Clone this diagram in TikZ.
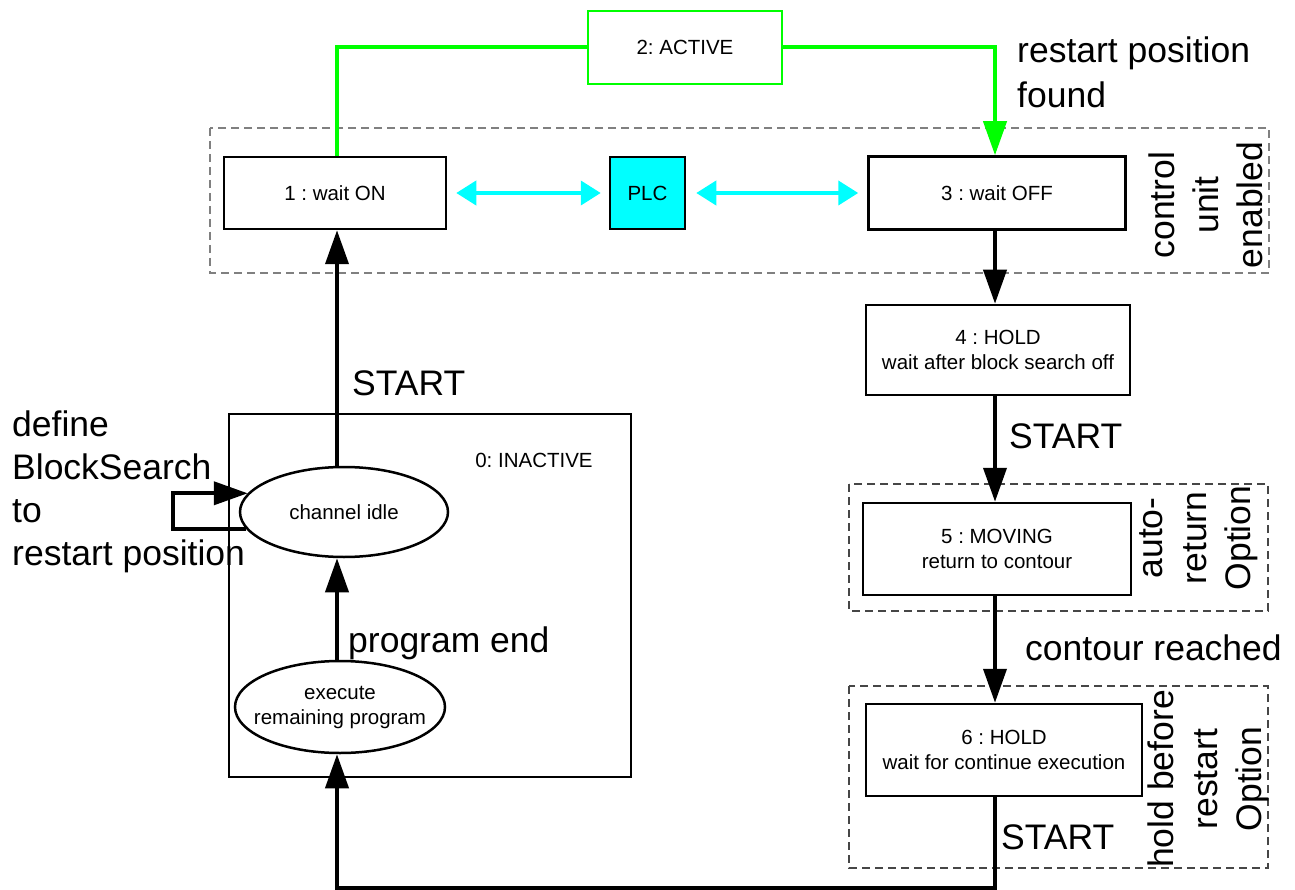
\documentclass[tikz,border=0pt]{standalone}
\usepackage{fontspec}
\setmainfont{Liberation Sans}
\usetikzlibrary{arrows.meta,shapes.geometric}
\definecolor{cgreen}{RGB}{0,255,0}
\definecolor{ccyan}{RGB}{0,255,255}
\definecolor{dgray}{RGB}{128,128,128}
\definecolor{ddgray}{RGB}{70,70,70}
\frenchspacing
\begin{document}
\begin{tikzpicture}[x=1pt,y=-1pt,
  small/.style={font=\fontsize{20.5pt}{25pt}\selectfont},
  big/.style={font=\fontsize{35.5pt}{44pt}\selectfont},
  statebox/.style={draw=black, line width=2.5pt, rectangle, inner sep=0pt, align=center, small},
  stateell/.style={draw=black, line width=2.5pt, ellipse, inner xsep=-20pt, inner ysep=0pt, align=center, small},
  lbl/.style={big, inner sep=0pt},
  blackarr/.style={draw=black, line width=4pt, -{Triangle[length=34pt,width=23pt]}},
  greenline/.style={draw=cgreen, line width=4pt},
  greenarr/.style={greenline, -{Triangle[length=34pt,width=23pt]}},
  cyanarr/.style={draw=ccyan, line width=4pt, {Triangle[length=20pt,width=24pt]}-{Triangle[length=20pt,width=24pt]}},
  groupbox/.style={draw=#1, line width=1.2pt, dash pattern=on 8pt off 5pt},
]
\useasboundingbox (0,0) rectangle (1295,890);

% group frames
\draw[groupbox=dgray] (210,128) rectangle (1269,273);
\draw[groupbox=ddgray] (849,484) rectangle (1268,611);
\draw[groupbox=ddgray] (849,686) rectangle (1268,868);

% inactive super-state
\node[draw=black, line width=2.5pt, rectangle, minimum width=402pt, minimum height=363pt, inner sep=0pt] (b0) at (430,595.5) {};
\node[small, inner sep=0pt] (b0lbl) at (534,460) {0: INACTIVE};

% states
\node[statebox, draw=cgreen, minimum width=194pt, minimum height=73pt] (b2) at (685,47.5) {2: ACTIVE};
\node[statebox, minimum width=222pt, minimum height=72pt] (b1) at (335,193) {1 : wait ON};
\node[statebox, fill=ccyan, minimum width=75pt, minimum height=72pt] (plc) at (647.5,193) {PLC};
\node[statebox, minimum width=257pt, minimum height=73pt] (b3) at (997,193) {3 : wait OFF};
\node[statebox, minimum width=264pt, minimum height=90pt] (b4) at (998,350) {4 : HOLD\\wait after block search off};
\node[statebox, minimum width=268pt, minimum height=92pt] (b5) at (997,549) {5 : MOVING\\return to contour};
\node[statebox, minimum width=276pt, minimum height=92pt] (b6) at (1004,750) {6 : HOLD\\wait for continue execution};
\node[stateell, minimum width=208pt, minimum height=90pt] (e1) at (344,512) {channel idle};
\node[stateell, minimum width=210pt, minimum height=92pt] (e2) at (340,707) {execute\\remaining program};

% helper coordinates
\coordinate (ax) at (995,0);
\coordinate (lx) at (337,0);
\coordinate (botR) at (995,888);
\coordinate (botL) at (337,888);
\coordinate (lp) at (173,0);

% green connectors
\draw[greenline] (b1.north -| lx) |- (b2.west);
\draw[greenarr] (b2.east) -| (b3.north -| ax);

% cyan connectors
\draw[cyanarr, shorten <=9pt, shorten >=8pt] (b1.east) -- (plc.west);
\draw[cyanarr, shorten <=10pt, shorten >=9pt] (plc.east) -- (b3.west);

% black connectors
\draw[blackarr] (b3.south -| ax) -- (b4.north -| ax);
\draw[blackarr] (b4.south -| ax) -- (b5.north -| ax);
\draw[blackarr] (b5.south -| ax) -- (b6.north -| ax);
\draw[blackarr] (b6.south -| ax) -- (botR) -- (botL) -- (e2.south -| lx);
\draw[blackarr] (e2.north -| lx) -- (e1.south -| lx);
\draw[blackarr] (e1.north -| lx) -- (b1.south -| lx);
\draw[blackarr] (e1.190) -- (e1.190 -| lp) |- (e1.169);

% labels
\node[lbl, anchor=base west] (l1a) at (1017,63) {restart position};
\node[lbl, anchor=base west] (l1b) at (1017,108) {found};
\node[lbl, anchor=base west] (lst1) at (352,395) {START};
\node[lbl, anchor=base west] (lst2) at (1009,448) {START};
\node[lbl, anchor=base west] (lst3) at (1001,849) {START};
\node[lbl, anchor=base west] (lprog) at (348,652) {program end};
\node[lbl, anchor=base west] (lcont) at (1025,660) {contour reached};
\node[lbl, anchor=base west] (ld1) at (12,436) {define};
\node[lbl, anchor=base west] (ld2) at (12,479) {BlockSearch};
\node[lbl, anchor=base west] (ld3) at (12,522) {to};
\node[lbl, anchor=base west] (ld4) at (12,565) {restart position};
\node[lbl, rotate=90, align=center] (lcu) at (1206,205) {control\\unit\\enabled};
\node[lbl, rotate=90, align=center] (lar) at (1199,538) {auto-\\return\\Option};
\node[lbl, rotate=90, align=center] (lhb) at (1208,779) {hold before\\restart\\Option};
\end{tikzpicture}
\end{document}
